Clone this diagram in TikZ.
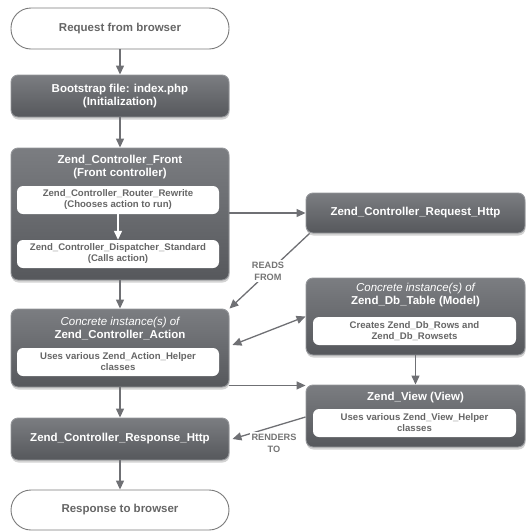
\documentclass[tikz,border=0pt]{standalone}
\usepackage{fontspec}
\setmainfont{Liberation Sans}
\usetikzlibrary{arrows.meta,shadows}
\definecolor{boxtop}{HTML}{7B7D81}
\definecolor{boxbot}{HTML}{56585C}
\definecolor{boxline}{HTML}{94969A}
\definecolor{conncol}{HTML}{6F7074}
\definecolor{graytext}{HTML}{666666}
\definecolor{termline}{HTML}{7A7A7A}
\begin{document}
\begin{tikzpicture}[x=1pt,y=-1pt,
  darkbox/.style={draw=boxline, line width=0.9pt, rounded corners=7pt,
    top color=boxtop, bottom color=boxbot,
    drop shadow={shadow xshift=0.5pt, shadow yshift=-2.5pt, opacity=0.35},
    inner sep=0pt, text=white, align=center,
    font=\bfseries\fontsize{11.5}{13}\selectfont},
  termbox/.style={draw=termline, line width=0.9pt, rounded corners=20pt, fill=white,
    inner sep=0pt, text=graytext, align=center,
    font=\bfseries\fontsize{11.5}{13}\selectfont},
  titletext/.style={inner sep=0pt, text=white, align=center,
    font=\bfseries\fontsize{11.5}{13}\selectfont},
  whitebox/.style={fill=white, rounded corners=6pt, inner sep=0pt,
    minimum width=202pt, minimum height=28pt, text=graytext, align=center,
    font=\bfseries\fontsize{9.6}{11}\selectfont},
  conn/.style={draw=conncol, line width=1.3pt, -{Triangle[length=9pt,width=8pt]}},
  whiteconn/.style={draw=white, line width=1.3pt, -{Triangle[length=9pt,width=8pt]}},
  lbl/.style={fill=white, inner sep=1.5pt, text=graytext!90, align=center,
    font=\bfseries\fontsize{9.2}{12}\selectfont}
]
\useasboundingbox (0,0) rectangle (528,531);

% left column
\node[termbox, minimum width=218pt, minimum height=41pt] (req) at (120,28.5) {Request from browser};
\node[darkbox, minimum width=218pt, minimum height=42pt] (boot) at (120,96) {Bootstrap file: index.php\\(Initialization)};

\node[darkbox, minimum width=218pt, minimum height=132pt] (front) at (120,214) {};
\node[titletext] (fronttitle) at (120,167.5) {Zend\_Controller\_Front\\(Front controller)};
\node[whitebox] (router) at (118,200) {Zend\_Controller\_Router\_Rewrite\\(Chooses action to run)};
\node[whitebox] (disp) at (118,254) {Zend\_Controller\_Dispatcher\_Standard\\(Calls action)};

\node[darkbox, minimum width=218pt, minimum height=78pt] (action) at (120,348) {};
\node[titletext] (acttitle) at (120,328.5) {{\mdseries\itshape Concrete instance(s) of}\\Zend\_Controller\_Action};
\node[whitebox] (acthelp) at (118,362) {Uses various Zend\_Action\_Helper\\classes};

\node[darkbox, minimum width=218pt, minimum height=42pt] (resp) at (120,439) {Zend\_Controller\_Response\_Http};
\node[termbox, minimum width=218pt, minimum height=40pt] (end) at (120,510) {Response to browser};

% right column
\node[darkbox, minimum width=219pt, minimum height=40pt] (reqhttp) at (415.5,213) {Zend\_Controller\_Request\_Http};

\node[darkbox, minimum width=219pt, minimum height=77pt] (db) at (415.5,316.5) {};
\node[titletext] (dbtitle) at (415.5,295) {{\mdseries\itshape Concrete instance(s) of}\\Zend\_Db\_Table (Model)};
\node[whitebox, minimum width=203pt] (dbrows) at (414.5,331) {Creates Zend\_Db\_Rows and\\Zend\_Db\_Rowsets};

\node[darkbox, minimum width=219pt, minimum height=62pt] (view) at (415.5,416) {};
\node[titletext] (viewtitle) at (415.5,398) {Zend\_View (View)};
\node[whitebox, minimum width=203pt] (viewhelp) at (414.5,423) {Uses various Zend\_View\_Helper\\classes};

% connectors
\draw[conn] (req) -- (boot);
\draw[conn] (boot) -- (front);
\draw[whiteconn] (router) -- (disp);
\draw[conn] (front) -- (action);
\draw[conn] (action) -- (resp);
\draw[conn] (resp) -- (end);
\draw[conn] (reqhttp.west -| front.east) -- (reqhttp.west);
\draw[conn] ([xshift=4pt]reqhttp.south west) -- (action.north east);
\draw[conn, {Triangle[length=9pt,width=8pt]}-{Triangle[length=9pt,width=8pt]}] ([xshift=3pt,yshift=3pt]action.east) -- (db.west);
\coordinate (actout) at ([yshift=2pt]action.south east);
\draw[conn] (actout) -- (actout -| view.west);
\draw[conn] (db) -- (view);
\draw[conn] ([yshift=-1pt]view.west) -- ([xshift=3pt]resp.east);

% labels
\node[lbl] (reads) at (268,271) {READS\\FROM};
\node[lbl] (renders) at (274,443) {RENDERS\\TO};
\end{tikzpicture}
\end{document}
